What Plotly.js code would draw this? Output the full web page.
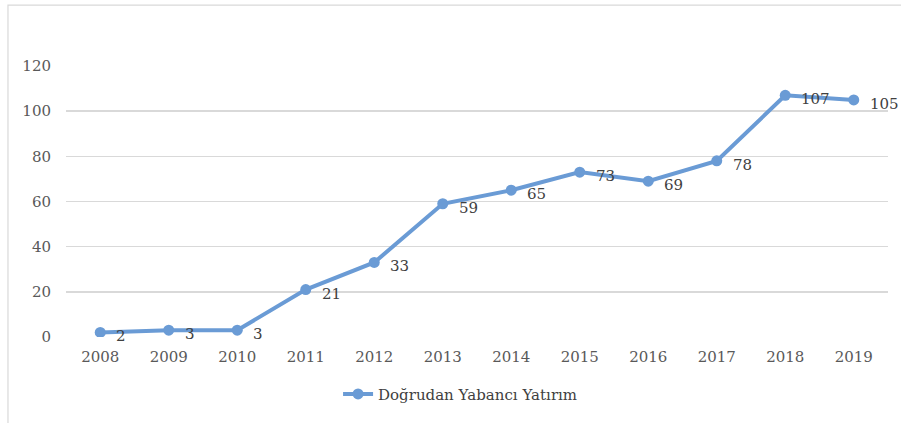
<!DOCTYPE html>
<html><head><meta charset="utf-8">
<script src="https://cdn.plot.ly/plotly-3.0.1.min.js"></script>
<style>html,body{margin:0;padding:0;background:#fff}#c{width:901px;height:423px}</style>
</head><body><div id="c"></div>
<script>
var years = ['2008','2009','2010','2011','2012','2013','2014','2015','2016','2017','2018','2019'];
var values = [2,3,3,21,33,59,65,73,69,78,107,105];
var seriesName = 'Doğrudan Yabancı Yatırım';
var yTicks = [0,20,40,60,80,100,120];

var FONT = 'DejaVu Serif, Liberation Serif, serif';
var trace = {
  x: years, y: values, type: 'scatter', mode: 'lines+markers', name: seriesName,
  line: {color: '#6A9BD5', width: 4},
  marker: {color: '#6A9BD5', size: 11},
  hoverinfo: 'skip'
};
var annotations = years.map(function(yr, i){
  return {x: i, y: values[i], xref: 'x', yref: 'y', text: String(values[i]),
    showarrow: false, xanchor: 'left', yanchor: 'middle', xshift: 14, yshift: -4,
    font: {family: FONT, size: 15, color: '#404040'}};
});
var layout = {
  width: 901, height: 423,
  margin: {l: 66, r: 13, t: 66, b: 86},
  paper_bgcolor: '#fff', plot_bgcolor: '#fff',
  showlegend: true,
  legend: {orientation: 'h', x: 0.48, xanchor: 'center', y: -0.15, yanchor: 'top',
    font: {family: FONT, size: 15, color: '#404040'}},
  xaxis: {type: 'category', range: [-0.5, years.length - 0.5], autorange: false,
    showgrid: false, zeroline: false, showline: false, ticks: '',
    tickfont: {family: FONT, size: 15, color: '#595959'}, ticklabelstandoff: 9, fixedrange: true},
  yaxis: {range: [0, 120], autorange: false, tickvals: yTicks, showgrid: true, gridcolor: '#d9d9d9', gridwidth: 1.5,
    zeroline: false, showline: false, ticks: '',
    tickfont: {family: FONT, size: 15, color: '#595959'}, ticklabelstandoff: 14, fixedrange: true},
  annotations: annotations,
  shapes: [{type: 'rect', xref: 'paper', yref: 'paper', x0: -0.0706, x1: 1.03, y0: -0.4, y1: 1.225,
    line: {color: '#d9d9d9', width: 1.2}, fillcolor: 'rgba(0,0,0,0)', layer: 'below'}]
};
Plotly.newPlot('c', [trace], layout, {displayModeBar: false, staticPlot: true});
</script></body></html>
